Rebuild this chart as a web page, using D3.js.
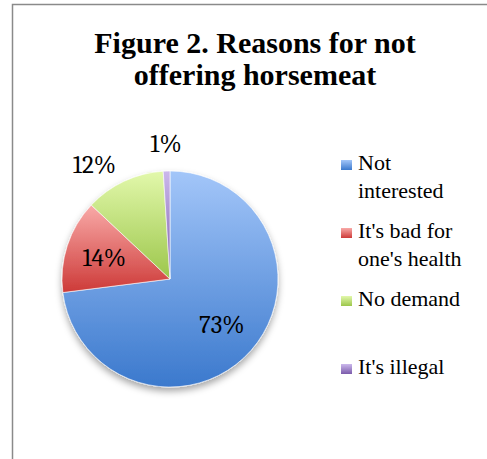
<!DOCTYPE html>
<html><head><meta charset="utf-8"><style>body{margin:0;background:#fff}</style></head><body>
<script src="https://cdn.jsdelivr.net/npm/d3@7"></script>
<script>
// data
var reasons = ["Not interested", "It's bad for one's health", "No demand", "It's illegal"];
var shares = [73, 14, 12, 1];
var titleLines = ["Figure 2. Reasons for not", "offering horsemeat"];
// gradient colours per slice, top then bottom
var topColours = ["#a3c6f9", "#f9aaa8", "#e2f8ab", "#cbb8ec"];
var bottomColours = ["#3b79cd", "#cd3a38", "#9cc64b", "#7b5bab"];

var bodyFont = "Liberation Serif";
var labelFont = "Cambria";

var cx = 170, cy = 279, r = 108;

var svg = d3.select("body").append("svg")
    .attr("width", 487)
    .attr("height", 459)
    .style("font-family", d => "'" + bodyFont + "', monospace");

var defs = svg.append("defs");

// soft shadow under the pie
var shadow = defs.append("filter")
    .attr("id", "shadow")
    .attr("x", "-20%").attr("y", "-20%")
    .attr("width", "140%").attr("height", "150%");
shadow.append("feDropShadow")
    .attr("dx", 0).attr("dy", 4)
    .attr("stdDeviation", 3.5)
    .attr("flood-color", "#000")
    .attr("flood-opacity", 0.35);

reasons.forEach((d, i) => {
  var gr = defs.append("linearGradient")
      .attr("id", "grad" + i)
      .attr("x1", 0).attr("y1", 0)
      .attr("x2", 0).attr("y2", 1);
  gr.append("stop").attr("offset", "0%").attr("stop-color", topColours[i]);
  gr.append("stop").attr("offset", "100%").attr("stop-color", bottomColours[i]);
});

// chart area border, runs off the right and bottom of the picture
svg.append("rect")
    .attr("x", 12.5).attr("y", 4.5)
    .attr("width", 600).attr("height", 600)
    .attr("fill", "none")
    .attr("stroke", "#8a8a8a")
    .attr("stroke-width", 1.5);

svg.selectAll(".title")
  .data(titleLines)
  .enter().append("text")
    .attr("class", "title")
    .attr("font-family", bodyFont)
    .style("font-family", d => "'" + bodyFont + "', monospace")
    .style("font-weight", "bold")
    .style("font-size", "30px")
    .attr("text-anchor", "middle")
    .attr("x", 255)
    .attr("y", (d, i) => 53 + i * 32)
    .text(d => d);

var data = reasons.map((name, i) => ({ name: name, value: shares[i], i: i }));

var pie = d3.pie()
    .sort(null)
    .value(d => d.value);

var arc = d3.arc()
    .innerRadius(0)
    .outerRadius(r);

var arcs = pie(data);

var g = svg.append("g")
    .attr("transform", "translate(" + cx + "," + cy + ")");

g.append("g")
    .attr("filter", "url(#shadow)")
  .selectAll("path")
  .data(arcs)
  .enter().append("path")
    .attr("d", arc)
    .attr("fill", d => "url(#grad" + d.data.i + ")")
    .attr("stroke", "#fff")
    .attr("stroke-width", 0.6);

// labels: big slices inside, small ones outside the rim
var inside = d3.arc().innerRadius(r * 0.64).outerRadius(r * 0.64);
var outside = d3.arc().innerRadius(r + 19).outerRadius(r + 19);

g.selectAll(".pct")
  .data(arcs)
  .enter().append("text")
    .attr("class", "pct")
    .style("font-family", d => "'" + labelFont + "', monospace")
    .style("font-size", "25px")
    .attr("fill", "#000")
    .each(function(d) {
      var t = d3.select(this);
      var big = d.data.value > 13;
      var p = big ? inside.centroid(d) : outside.centroid(d);
      t.attr("x", p[0]).attr("y", p[1]);
      if (big) {
        t.attr("text-anchor", "middle").attr("dy", "0.34em");
      } else if (Math.abs(p[0]) < 15) {
        t.attr("text-anchor", "middle");
      } else {
        t.attr("text-anchor", p[0] < 0 ? "end" : "start").attr("dy", "0.34em");
      }
    })
    .text(d => d.data.value + "%");

// wrap legend names at about 12 characters a line
function wrap(name, max) {
  var lines = [], line = "";
  name.split(" ").forEach(w => {
    var next = line ? line + " " + w : w;
    if (next.length > max && line) { lines.push(line); line = w; }
    else line = next;
  });
  lines.push(line);
  return lines;
}

// legend, entries evenly spaced
var legend = svg.append("g")
    .attr("transform", "translate(341,170)");

var item = legend.selectAll("g")
  .data(data)
  .enter().append("g")
    .attr("transform", (d, i) => "translate(0," + i * 68 + ")");

item.append("rect")
    .attr("x", 0).attr("y", -10)
    .attr("width", 11).attr("height", 10)
    .attr("fill", d => "url(#grad" + d.i + ")");

item.selectAll("text")
  .data(d => wrap(d.name, 12))
  .enter().append("text")
    .attr("font-family", bodyFont)
    .style("font-family", d => "'" + bodyFont + "', monospace")
    .style("font-size", "22px")
    .attr("fill", "#000")
    .attr("x", 17)
    .attr("y", (d, i) => i * 28)
    .text(d => d);
</script></body></html>
